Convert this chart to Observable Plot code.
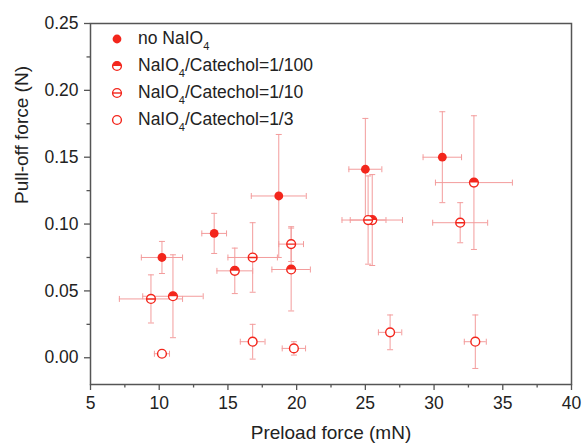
<!DOCTYPE html>
<html><head><meta charset="utf-8">
<script src="https://cdn.jsdelivr.net/npm/d3@7"></script>
<script src="https://cdn.jsdelivr.net/npm/@observablehq/plot@0.6"></script>
<style>
body{margin:0;background:#fff;font-family:"Liberation Sans",Arial,sans-serif;}
#wrap{position:relative;width:584px;height:448px;}
#legend{position:absolute;left:107px;top:25px;font-size:17.5px;color:#222;line-height:1;}
.row{height:27px;display:flex;align-items:center;white-space:nowrap;}
.row svg{width:20px;height:20px;margin-right:11px;flex:none;}
.s{font-size:11px;position:relative;top:6px;}
</style></head>
<body><div id="wrap"><div id="chart"></div><div id="legend"></div></div>
<script>
// ---- data ----
const xTicks = [5, 10, 15, 20, 25, 30, 35, 40];
const yTicks = [0.00, 0.05, 0.10, 0.15, 0.20, 0.25];
const seriesNames = ["no NaIO4", "NaIO4/Catechol=1/100", "NaIO4/Catechol=1/10", "NaIO4/Catechol=1/3"];

const noX  = [10.2, 14.0, 18.7, 25.0, 30.6];
const noY  = [0.075, 0.093, 0.121, 0.141, 0.150];
const noXe = [1.5, 0.9, 2.0, 1.2, 1.4];
const noYe = [0.012, 0.015, 0.046, 0.038, 0.034];

const hX  = [11.0, 15.5, 19.6, 25.5, 32.9];
const hY  = [0.046, 0.065, 0.066, 0.103, 0.131];
const hXe = [2.2, 1.3, 1.4, 2.2, 2.8];
const hYe = [0.031, 0.017, 0.031, 0.034, 0.050];

const bX  = [9.4, 16.8, 19.6, 25.2, 31.9];
const bY  = [0.044, 0.075, 0.085, 0.103, 0.101];
const bXe = [2.3, 1.8, 0.9, 1.3, 2.0];
const bYe = [0.018, 0.026, 0.013, 0.033, 0.015];

const oX  = [10.2, 16.8, 19.8, 26.8, 33.0];
const oY  = [0.003, 0.012, 0.007, 0.019, 0.012];
const oXe = [0.55, 0.9, 0.85, 0.85, 0.8];
const oYe = [0.0, 0.013, 0.005, 0.013, 0.020];

// ---- build table ----
const groups = [[noX,noY,noXe,noYe],[hX,hY,hXe,hYe],[bX,bY,bXe,bYe],[oX,oY,oXe,oYe]];
const data = groups.flatMap(([X,Y,Xe,Ye], s) => X.map((x,i) => ({s, x, y:Y[i], xe:Xe[i], ye:Ye[i]})));
const capsV = data.flatMap(d => [{x:d.x, y:d.y-d.ye}, {x:d.x, y:d.y+d.ye}]);
const capsH = data.flatMap(d => [{x:d.x-d.xe, y:d.y}, {x:d.x+d.xe, y:d.y}]);

const red = "#f3261c", err = "#f39c9c", axisC = "#555";
const R = 4.4;
const rOf = size => Math.sqrt(size/Math.PI);
const capH = {draw(c){c.moveTo(-3,0); c.lineTo(3,0);}};
const capV = {draw(c){c.moveTo(0,-3); c.lineTo(0,3);}};
const halfTop = {draw(c,size){const r=rOf(size); c.moveTo(-r,0); c.arc(0,0,r,Math.PI,2*Math.PI); c.closePath();}};
const barCircle = {draw(c,size){const r=rOf(size); c.moveTo(r,0); c.arc(0,0,r,0,2*Math.PI); c.moveTo(-r,0); c.lineTo(r,0);}};

const xMinor = d3.range(7.5, 40, 5);
const yMinor = d3.range(-0.025, 0.25, 0.05).map(v => +v.toFixed(3)).filter(v => v >= -0.02);

const chart = Plot.plot({
  width: 584, height: 448,
  marginLeft: 90, marginRight: 13, marginTop: 23, marginBottom: 64,
  x: {domain: [5, 40]},
  y: {domain: [-0.02, 0.25]},
  style: {fontFamily: '"Liberation Sans", Arial, sans-serif', fontSize: "17.5px", color: "#222", background: "#fff"},
  marks: [
    Plot.axisX(xTicks, {tickSize: 6, tickPadding: 6, stroke: axisC, strokeWidth: 1.3, tickFormat: d => String(d), label: null, fill: "#222"}),
    Plot.axisX(xMinor, {tickSize: 3.5, tickFormat: () => "", stroke: axisC, strokeWidth: 1.3, label: null}),
    Plot.axisY(yTicks, {tickSize: 6, tickPadding: 6, stroke: axisC, strokeWidth: 1.3, tickFormat: d => d.toFixed(2), label: null, fill: "#222"}),
    Plot.axisY(yMinor, {tickSize: 3.5, tickFormat: () => "", stroke: axisC, strokeWidth: 1.3, label: null}),
    Plot.text(["Preload force (mN)"], {frameAnchor: "bottom", dy: 54, fontSize: 19, fill: "#222"}),
    Plot.text(["Pull-off force (N)"], {frameAnchor: "left", dx: -69, rotate: -90, fontSize: 19, fill: "#222"}),
    // error bars
    Plot.ruleX(data, {x: "x", y1: d => d.y - d.ye, y2: d => d.y + d.ye, stroke: err, strokeWidth: 1}),
    Plot.ruleY(data, {y: "y", x1: d => d.x - d.xe, x2: d => d.x + d.xe, stroke: err, strokeWidth: 1}),
    Plot.dot(capsV, {x: "x", y: "y", symbol: capH, r: 3, stroke: err, fill: "none", strokeWidth: 1}),
    Plot.dot(capsH, {x: "x", y: "y", symbol: capV, r: 3, stroke: err, fill: "none", strokeWidth: 1}),
    // markers
    Plot.dot(data.filter(d => d.s === 0), {x: "x", y: "y", r: R, fill: red, stroke: "none"}),
    Plot.dot(data.filter(d => d.s === 1), {x: "x", y: "y", r: R, fill: "#fff", stroke: red, strokeWidth: 1.4}),
    Plot.dot(data.filter(d => d.s === 1), {x: "x", y: "y", r: R, symbol: halfTop, fill: red, stroke: "none"}),
    Plot.dot(data.filter(d => d.s === 2), {x: "x", y: "y", r: R, symbol: barCircle, fill: "#fff", stroke: red, strokeWidth: 1.4}),
    Plot.dot(data.filter(d => d.s === 3), {x: "x", y: "y", r: R, fill: "#fff", stroke: red, strokeWidth: 1.4}),
    Plot.frame({stroke: axisC, strokeWidth: 1.5})
  ]
});
document.getElementById("chart").append(chart);

// ---- legend ----
const markerSvg = [
  `<circle cx="10" cy="10" r="${R}" fill="${red}"/>`,
  `<circle cx="10" cy="10" r="${R}" fill="#fff" stroke="${red}" stroke-width="1.4"/><path d="M${10-R},10A${R},${R} 0 0 1 ${10+R},10Z" fill="${red}"/>`,
  `<circle cx="10" cy="10" r="${R}" fill="#fff" stroke="${red}" stroke-width="1.4"/><path d="M${10-R},10H${10+R}" stroke="${red}" stroke-width="1.4"/>`,
  `<circle cx="10" cy="10" r="${R}" fill="#fff" stroke="${red}" stroke-width="1.4"/>`
];
const fmt = name => name.replace(/NaIO4/g, 'NaIO<span class="s">4</span>');
document.getElementById("legend").innerHTML = seriesNames.map((n, i) =>
  `<div class="row"><svg viewBox="0 0 20 20">${markerSvg[i]}</svg><span>${fmt(n)}</span></div>`).join("");
</script>
</body></html>
